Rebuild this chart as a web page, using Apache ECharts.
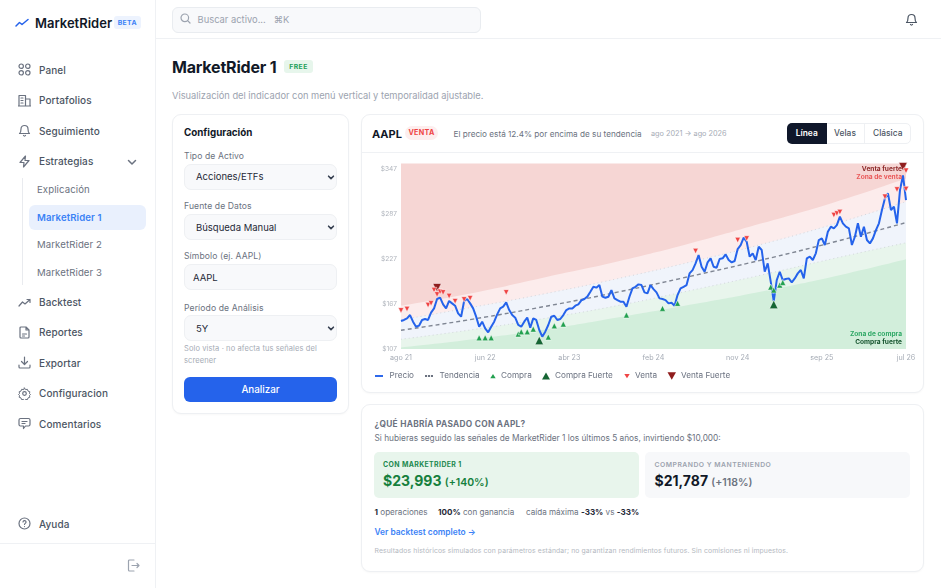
<!DOCTYPE html>
<html lang="es">
<head>
<meta charset="utf-8">
<title>MarketRider 1</title>
<script src="https://cdn.jsdelivr.net/npm/echarts@6/dist/echarts.min.js"></script>
<style>
  * { box-sizing: border-box; margin: 0; padding: 0; }
  html, body { width: 941px; height: 588px; overflow: hidden; background: #fff; font-family: Inter, "Noto Sans", sans-serif; color: #111827; }
  .a { position: absolute; white-space: nowrap; line-height: 1; }
  .mid { transform: translateY(-50%); }
  .side { position: absolute; left: 0; top: 0; width: 155.5px; height: 588px; border-right: 1px solid #eff1f4; }
  .nav { font-size: 10px; color: #4b5563; left: 39px; font-weight: 450; letter-spacing: .1px; }
  .sub { font-size: 9.6px; color: #6b7280; left: 37px; letter-spacing: .1px; }
  .ic { position: absolute; width: 13px; height: 13px; fill: none; stroke: #6b7280; stroke-width: 1.2; stroke-linecap: round; stroke-linejoin: round; }
  .card { position: absolute; border: 1px solid #eef0f3; border-radius: 9px; background: #fff; box-shadow: 0 1px 2px rgba(17,24,39,.03); }
  .lab { font-size: 8.6px; color: #6b7280; left: 184px; letter-spacing: .1px; }
  .field { position: absolute; left: 184px; width: 153px; height: 26px; background: #f8f9fb; border: 1px solid #eef0f3; border-radius: 7px; }
  .val { font-size: 9.5px; color: #1f2937; left: 196px; }
  .chev { position: absolute; left: 327px; width: 8px; height: 8px; fill: none; stroke: #374151; stroke-width: 2; stroke-linecap: round; stroke-linejoin: round; }
  b { font-weight: 700; }
</style>
</head>
<body>
<div class="side"></div>
<svg class="ic" style="left:15px;top:16px;width:14px;height:13px;stroke:#2563eb;stroke-width:1.5" viewBox="0 0 14 13"><path d="M1 10 L4.5 6.5 L7 8.5 L13 3.5"/></svg>
<div class="a mid" style="left:35px;top:22.5px;font-size:13px;font-weight:600">MarketRider</div>
<div class="a" style="left:113.5px;top:16px;width:27.5px;height:13px;background:#edf3fe;border-radius:3px;font-size:6.8px;font-weight:700;color:#3b82f6;text-align:center;line-height:13px;letter-spacing:.4px">BETA</div>

<svg class="ic" style="left:17.5px;top:63px" viewBox="0 0 13 13"><circle cx="3.2" cy="3.2" r="2.2"/><circle cx="9.8" cy="3.2" r="2.2"/><circle cx="3.2" cy="9.8" r="2.2"/><circle cx="9.8" cy="9.8" r="2.2"/></svg>
<div class="a mid nav" style="top:69.5px">Panel</div>
<svg class="ic" style="left:17.5px;top:93.5px" viewBox="0 0 13 13"><path d="M1 12V1.5h6.5V12M7.5 5H12v7M0 12h13M3 4h2M3 6.5h2M3 9h2"/></svg>
<div class="a mid nav" style="top:100px">Portafolios</div>
<svg class="ic" style="left:17.5px;top:124px" viewBox="0 0 13 13"><path d="M3 5a3.5 3.5 0 0 1 7 0c0 3.5 1.5 4.5 1.5 4.5h-10S3 8.5 3 5M5.5 11.5a1.2 1.2 0 0 0 2 0"/></svg>
<div class="a mid nav" style="top:130.5px">Seguimiento</div>
<svg class="ic" style="left:17.5px;top:154.5px" viewBox="0 0 13 13"><path d="M7.5 1 L2 7.5 H6 L5.5 12 L11 5.5 H7 Z"/></svg>
<div class="a mid nav" style="top:161px">Estrategias</div>
<svg class="ic" style="left:127px;top:156.5px;width:10px;height:10px;stroke-width:1.5" viewBox="0 0 10 10"><path d="M1.5 3.5 L5 7 L8.5 3.5"/></svg>
<div class="a" style="left:22px;top:178px;width:1px;height:107px;background:#e9ebef"></div>
<div class="a mid sub" style="top:190px">Explicación</div>
<div class="a" style="left:29px;top:205px;width:117px;height:25px;background:#e9f0fd;border-radius:6px"></div>
<div class="a mid sub" style="top:217.5px;color:#3b82f6;font-weight:600">MarketRider 1</div>
<div class="a mid sub" style="top:245px">MarketRider 2</div>
<div class="a mid sub" style="top:272.5px">MarketRider 3</div>
<svg class="ic" style="left:17.5px;top:295.5px" viewBox="0 0 13 13"><path d="M1 10 L4.5 6 L7 8 L12 3.5M9 3.5h3v3"/></svg>
<div class="a mid nav" style="top:302px">Backtest</div>
<svg class="ic" style="left:17.5px;top:325.5px" viewBox="0 0 13 13"><path d="M8 1H3a1 1 0 0 0-1 1v9a1 1 0 0 0 1 1h7a1 1 0 0 0 1-1V4zM8 1v3h3M4.5 8h4M4.5 10h2"/></svg>
<div class="a mid nav" style="top:332px">Reportes</div>
<svg class="ic" style="left:17.5px;top:356px" viewBox="0 0 13 13"><path d="M6.5 1v7.5M3.5 5.5l3 3 3-3M1 9v2a1 1 0 0 0 1 1h9a1 1 0 0 0 1-1V9"/></svg>
<div class="a mid nav" style="top:362.5px">Exportar</div>
<svg class="ic" style="left:17.5px;top:386.5px" viewBox="0 0 13 13"><circle cx="6.5" cy="6.5" r="1.8"/><path d="M6.5 1l1 1.6 1.9-.3.6 1.8 1.8.6-.3 1.9 1 .9-1 .9.3 1.9-1.8.6-.6 1.8-1.9-.3-1 1.6-1-1.6-1.9.3-.6-1.8-1.8-.6.3-1.9-1-.9 1-.9-.3-1.9 1.8-.6.6-1.8 1.9.3z" stroke-width="1"/></svg>
<div class="a mid nav" style="top:393px">Configuracion</div>
<svg class="ic" style="left:17.5px;top:417px" viewBox="0 0 13 13"><path d="M1 3a1.5 1.5 0 0 1 1.5-1.5h8A1.5 1.5 0 0 1 12 3v4.5a1.5 1.5 0 0 1-1.5 1.5H7.5L5.5 11.5V9h-3A1.5 1.5 0 0 1 1 7.5zM4 4.5h5M4 6.5h3"/></svg>
<div class="a mid nav" style="top:423.5px">Comentarios</div>
<svg class="ic" style="left:17.5px;top:517px" viewBox="0 0 13 13"><circle cx="6.5" cy="6.5" r="5.5"/><path d="M5 5a1.5 1.5 0 0 1 3 .3c0 1-1.5 1.2-1.5 2.2M6.5 9.5v.1"/></svg>
<div class="a mid nav" style="top:523.5px">Ayuda</div>
<div class="a" style="left:0;top:543px;width:155px;height:1px;background:#eff1f4"></div>
<svg class="ic" style="left:127px;top:559px;stroke:#9ca3af" viewBox="0 0 13 13"><path d="M7 1H2.5A1 1 0 0 0 1.5 2v9a1 1 0 0 0 1 1H7M5 6.5h7M10 4.5l2 2-2 2"/></svg>

<div class="a" style="left:156px;top:38px;width:785px;height:1px;background:#eff1f4"></div>
<div class="a" style="left:172px;top:7px;width:309px;height:25.5px;background:#f8f9fb;border:1px solid #e9ecf0;border-radius:6px"></div>
<svg class="ic" style="left:180px;top:13px;width:11px;height:11px;stroke:#9ca3af" viewBox="0 0 11 11"><circle cx="4.8" cy="4.8" r="3.8"/><path d="M7.6 7.6L10 10"/></svg>
<div class="a mid" style="left:197.5px;top:19.5px;font-size:9.4px;color:#9ca3af">Buscar activo...&nbsp;&nbsp;&nbsp;⌘K</div>
<svg class="ic" style="left:905px;top:12.5px;stroke:#4b5563" viewBox="0 0 13 13"><path d="M3 5a3.5 3.5 0 0 1 7 0c0 3.5 1.5 4.5 1.5 4.5h-10S3 8.5 3 5M5.5 11.5a1.2 1.2 0 0 0 2 0"/></svg>

<div class="a mid" style="left:172px;top:67px;font-size:16px;font-weight:700;letter-spacing:-.2px">MarketRider 1</div>
<div class="a" style="left:284px;top:60px;width:29px;height:13px;background:#e7f6ec;border-radius:3px;font-size:6.8px;font-weight:700;color:#22a05a;text-align:center;line-height:13px;letter-spacing:.4px">FREE</div>
<div class="a mid" style="left:172px;top:96px;font-size:9.3px;color:#9ca3af">Visualización del indicador con menú vertical y temporalidad ajustable.</div>

<div class="card" style="left:172px;top:114px;width:177px;height:300px"></div>
<div class="a mid" style="left:184px;top:132.5px;font-size:9.8px;font-weight:700">Configuración</div>
<div class="a mid lab" style="top:156px">Tipo de Activo</div>
<div class="field" style="top:164px"></div>
<div class="a mid val" style="top:177px">Acciones/ETFs</div>
<svg class="chev" style="top:173px" viewBox="0 0 10 10"><path d="M2 4l3 3 3-3"/></svg>
<div class="a mid lab" style="top:206px">Fuente de Datos</div>
<div class="field" style="top:214px"></div>
<div class="a mid val" style="top:227.5px">Búsqueda Manual</div>
<svg class="chev" style="top:223px" viewBox="0 0 10 10"><path d="M2 4l3 3 3-3"/></svg>
<div class="a mid lab" style="top:256px">Símbolo (ej. AAPL)</div>
<div class="field" style="top:264px"></div>
<div class="a mid val" style="top:277.5px;left:193px">AAPL</div>
<div class="a mid lab" style="top:307.5px">Período de Análisis</div>
<div class="field" style="top:315px"></div>
<div class="a mid val" style="top:328.5px">5Y</div>
<svg class="chev" style="top:324px" viewBox="0 0 10 10"><path d="M2 4l3 3 3-3"/></svg>
<div class="a mid" style="left:184px;top:349px;font-size:7.5px;color:#a5abb5;letter-spacing:.1px">Solo vista · no afecta tus señales del</div>
<div class="a mid" style="left:184px;top:360.5px;font-size:7.5px;color:#a5abb5;letter-spacing:.1px">screener</div>
<div class="a" style="left:184px;top:377px;width:153px;height:25px;background:#2563eb;border-radius:6px;color:#fff;text-align:center;line-height:25px;font-size:9.8px;font-weight:500">Analizar</div>

<div class="card" style="left:361px;top:114px;width:563px;height:279px"></div>
<div class="a" style="left:362px;top:152px;width:561px;height:1px;background:#eff1f4"></div>
<div class="a mid" style="left:372px;top:133.5px;font-size:11px;font-weight:700">AAPL</div>
<div class="a" style="left:405px;top:126px;width:33px;height:14px;background:#fdeeee;border-radius:7px;font-size:7.2px;font-weight:700;color:#ef4444;text-align:center;line-height:14px;letter-spacing:.3px">VENTA</div>
<div class="a mid" style="left:453.5px;top:133.5px;font-size:8.2px;color:#6b7280">El precio está 12.4% por encima de su tendencia</div>
<div class="a mid" style="left:651px;top:133.5px;font-size:7.3px;color:#a5abb5">ago 2021 → ago 2026</div>
<div class="a" style="left:787px;top:123px;width:124px;height:20.5px;border:1px solid #eef0f3;border-radius:5px"></div>
<div class="a" style="left:787px;top:123px;width:39.5px;height:20.5px;background:#0f172a;border-radius:5px 0 0 5px;color:#fff;font-size:8.4px;font-weight:600;text-align:center;line-height:20.5px">Línea</div>
<div class="a" style="left:826.5px;top:123px;width:38px;height:20.5px;font-size:8.4px;font-weight:500;color:#4b5563;text-align:center;line-height:20.5px;border-right:1px solid #eef0f3">Velas</div>
<div class="a" style="left:864.5px;top:123px;width:46.5px;height:20.5px;font-size:8.4px;font-weight:500;color:#4b5563;text-align:center;line-height:20.5px">Clásica</div>
<div id="main" style="position:absolute;left:362px;top:153px;width:561px;height:239px"></div>

<div class="card" style="left:361px;top:404px;width:563px;height:168px"></div>
<div class="a mid" style="left:374.5px;top:424px;font-size:8.3px;font-weight:700;color:#6b7280;letter-spacing:.3px">¿QUÉ HABRÍA PASADO CON AAPL?</div>
<div class="a mid" style="left:374.5px;top:438px;font-size:8.3px;color:#6b7280">Si hubieras seguido las señales de MarketRider 1 los últimos 5 años, invirtiendo $10,000:</div>
<div class="a" style="left:374px;top:452px;width:264.5px;height:46px;background:#e8f5ec;border-radius:5px"></div>
<div class="a" style="left:645px;top:452px;width:265px;height:46px;background:#f7f8fa;border-radius:5px"></div>
<div class="a mid" style="left:383px;top:465px;font-size:6.9px;font-weight:700;color:#22894f;letter-spacing:.4px">CON MARKETRIDER 1</div>
<div class="a mid" style="left:383px;top:481px;font-weight:700;color:#15803d;font-size:14px">$23,993 <span style="font-size:10.5px;font-weight:600">(+140%)</span></div>
<div class="a mid" style="left:654.5px;top:465px;font-size:6.8px;font-weight:600;color:#9ca3af;letter-spacing:.5px">COMPRANDO Y MANTENIENDO</div>
<div class="a mid" style="left:654.5px;top:481px;font-weight:700;color:#111827;font-size:14px">$21,787 <span style="font-size:10.5px;font-weight:600;color:#6b7280">(+118%)</span></div>
<div class="a mid" style="left:374.5px;top:512px;font-size:8.1px;color:#6b7280"><b style="color:#1f2937">1</b> operaciones</div>
<div class="a mid" style="left:438px;top:512px;font-size:8.1px;color:#6b7280"><b style="color:#1f2937">100%</b> con ganancia</div>
<div class="a mid" style="left:526px;top:512px;font-size:8.1px;color:#6b7280">caída máxima <b style="color:#1f2937">-33%</b> vs <b style="color:#1f2937">-33%</b></div>
<div class="a mid" style="left:374.5px;top:532px;font-size:8.4px;font-weight:600;color:#3b82f6">Ver backtest completo →</div>
<div class="a mid" style="left:374.5px;top:551px;font-size:6.85px;color:#b4b9c1;letter-spacing:.1px">Resultados históricos simulados con parámetros estándar; no garantizan rendimientos futuros. Sin comisiones ni impuestos.</div>

<script>
// eje x: posicion en la serie y su etiqueta
var xTickIdx = [0, 28, 56, 84, 112, 140, 168];
var xTickLabels = ['ago 21', 'jun 22', 'abr 23', 'feb 24', 'nov 24', 'sep 25', 'jul 26'];
var yTicks = [107, 167, 227, 287, 347];

// precio
var price = [
  144.4, 145.8, 148, 152.4, 143.5, 136.8, 138.2, 145.8, 147.1, 145.8,
  155.6, 161.3, 173.8, 175.6, 166.7, 161.3, 171.2, 168, 164.9, 154.7,
  150.2, 171.2, 173.8, 168, 161.3, 150.2, 136.8, 143.5, 134.6, 129.3,
  136.8, 143.5, 153.3, 161.3,
  163.6, 169.4, 159.1, 152.4, 148.9, 139.1, 136.8, 143.5, 148.9, 135.5,
  148, 145.8, 132.4, 123.5, 130.2, 139.1, 150.2, 151.5, 145.8, 147.1,
  152.4, 159.1, 161.3, 161.3, 164.9, 166.7, 172, 173.8, 177, 183.6,
  190.3, 189, 192.5, 177,
  175.5, 176.9, 185.8, 174.7, 172.4, 170.2, 170.2, 163.5, 176.9, 188,
  190.2, 193.4, 192.5, 182.7, 181.3, 192.5, 187.1, 182.7, 174.7, 173.8,
  172.4, 168, 168.9, 164.9, 179.1, 188, 190.2, 192.5, 208, 212.5,
  221.4, 232.6, 217, 210.3,
  222.8, 228.2, 217, 215.7, 227.3, 228.2, 233.5, 225.9, 222.8, 224.6,
  240.6, 246, 255.8, 250.4, 230.4, 234.8, 225.9, 243.7, 239.3, 210.3,
  221.5, 197, 171, 199.2, 210.3, 199.2, 200.5, 201.4, 196.1, 201.4,
  208.1, 212.6, 201.5,
  228.2, 230.4, 226, 234.9, 252.7, 254.9, 246, 263.8, 270.5, 268.3,
  272.7, 283.9, 275, 270.5, 268.3, 246, 257.1, 275, 257.1, 270.5,
  252.7, 248.2, 254.9, 266, 275, 292.8, 308.4, 315.1, 292.8, 297.2,
  275, 319.5, 339, 306
];

// bandas del indicador, leidas cada 24 posiciones
var bandIdx = [0, 24, 48, 72, 96, 120, 144, 168];
var trend = [132, 147, 164, 183, 204, 226, 250, 276];
var upperSoft = [146, 163, 181, 201, 223, 247, 274, 304];
var upperHard = [165, 182, 203, 224, 248, 275, 303, 335];
var lowerSoft = [120, 133, 148, 165, 185, 206, 228, 249];
var lowerHard = [109, 120, 133, 149, 166, 184, 204, 227];

// señales [posicion, precio]
var buy = [[26, 122], [28, 122], [30, 122], [39, 127], [40, 130], [42, 130], [44, 133.6], [49, 123], [51, 138], [54, 140.3], [75, 152.4], [87, 161.3], [92, 168], [123, 189.8], [124, 185.8], [126, 192.5], [127, 196]];
var strongBuy = [[46, 118.5], [124, 166.6]];
var sell = [[0, 158.6], [2, 160.4], [9, 165.7], [10, 168], [11, 185.8], [12, 180], [13, 183.5], [14, 182.7], [16, 177.8], [18, 171], [21, 173.3], [23, 175], [35, 182.7], [98, 237.9], [112, 252.6], [115, 254.8], [144, 286], [145, 288.2], [146, 290], [161, 310.5], [165, 320.3], [168, 320.8], [168, 345.3]];
var strongSell = [[12, 188.9], [167, 350.6]];

function pairs(xs, ys) {
  return ys.map(function (v, i) { return [xs ? xs[i] : i, v]; });
}
function zone(name, values, fill, dotted) {
  return {
    name: name, type: 'line', data: pairs(bandIdx, values), smooth: true, symbol: 'none', silent: true,
    lineStyle: dotted ? { color: '#d3d7dd', width: 1, type: [1, 3] } : { width: 0 },
    areaStyle: { color: fill, opacity: 1, origin: 'start' }
  };
}
function signals(name, data, color, size, down) {
  return {
    name: name, type: 'scatter', data: data, symbol: 'triangle', symbolSize: size, symbolRotate: down ? 180 : 0,
    itemStyle: { color: color, borderColor: '#fff', borderWidth: 0.5, opacity: 1 }, z: down ? 6 : 5
  };
}
// cada entrada de la leyenda lleva su ancho propio, por eso va en su propia leyenda
function legendFor(name, left, width, icon) {
  return {
    left: left, top: 214, itemWidth: width, itemHeight: 8, selectedMode: false,
    textStyle: { color: '#6b7280', fontSize: 8.2 },
    data: [{ name: name, icon: icon, itemStyle: { borderWidth: 0 } }]
  };
}

var lineSolid = 'path://M0,0L0,0M100,100L100,100M0,38L100,38L100,62L0,62Z';
var lineDashed = 'path://M0,0L0,0M100,100L100,100M0,38L26,38L26,62L0,62ZM37,38L63,38L63,62L37,62ZM74,38L100,38L100,62L74,62Z';
var triUpSmall = 'path://M0,0L0,0M100,100L100,100M5,88L95,88L50,18Z';
var triUpBig = 'path://M0,100L100,100L50,10Z';
var triDownSmall = 'path://M0,0L0,0M100,100L100,100M5,18L95,18L50,88Z';
var triDownBig = 'path://M0,0L100,0L50,90Z';

var myChart = echarts.init(document.getElementById('main'));
var zoneText = [
  ['Venta fuerte', '#8f2a2a', 17],
  ['Zona de venta', '#ea5a5a', 24.7],
  ['Zona de compra', '#2fa866', 182],
  ['Compra fuerte', '#14532d', 189.3]
];
myChart.setOption({
  animation: false,
  textStyle: { fontFamily: 'Inter' },
  grid: { left: 39, top: 10.5, width: 505, height: 185.5, show: true, backgroundColor: '#f6d6d4', borderWidth: 0 },
  legend: [
    legendFor('Precio', 8, 11, lineSolid),
    legendFor('Tendencia', 58, 11, lineDashed),
    legendFor('Compra', 123, 6, triUpSmall),
    legendFor('Compra Fuerte', 175, 8, triUpBig),
    legendFor('Venta', 257, 6, triDownSmall),
    legendFor('Venta Fuerte', 300.5, 8.5, triDownBig)
  ],
  xAxis: {
    type: 'value', min: 0, max: 168, splitLine: { show: false }, axisLine: { show: false }, axisTick: { show: false },
    axisLabel: {
      customValues: xTickIdx, color: '#a5abb5', fontSize: 7.2, margin: 5, showMinLabel: true, showMaxLabel: true,
      formatter: function (v) { return xTickLabels[xTickIdx.indexOf(v)]; }
    }
  },
  yAxis: {
    type: 'value', min: 107, max: 355, axisLine: { show: false },
    axisTick: { show: false, customValues: yTicks },
    axisLabel: { customValues: yTicks, color: '#b0b5bd', fontSize: 6.6, margin: 4, formatter: '${value}' },
    splitLine: { show: false }
  },
  series: [
    zone('upperHard', upperHard, '#fcecec', false),
    zone('upperSoft', upperSoft, '#f0f4fb', true),
    zone('lowerSoft', lowerSoft, '#e8f5ec', true),
    zone('lowerHard', lowerHard, '#d2eedb', false),
    {
      name: 'Tendencia', type: 'line', data: pairs(bandIdx, trend), smooth: true, symbol: 'none', z: 3,
      lineStyle: { color: '#6b7280', width: 1.4, type: [4, 3], opacity: 0.85 }, itemStyle: { color: '#6b7280' }
    },
    {
      name: 'Precio', type: 'line', data: pairs(null, price), symbol: 'none', z: 4,
      lineStyle: { color: '#2563eb', width: 2 }, itemStyle: { color: '#2563eb' }
    },
    signals('Compra', buy, '#22a04f', 6, false),
    signals('Compra Fuerte', strongBuy, '#166534', 8.5, false),
    signals('Venta Fuerte', strongSell, '#8f1d1d', 8.5, true),
    signals('Venta', sell, '#ef4444', 5.5, true)
  ],
  graphic: zoneText.map(function (t) {
    return {
      type: 'text', right: 21, top: t[2] - 4, z: 20, silent: true,
      style: { text: t[0], fill: t[1], font: '700 6.6px Inter' }
    };
  })
});
</script>
</body>
</html>
